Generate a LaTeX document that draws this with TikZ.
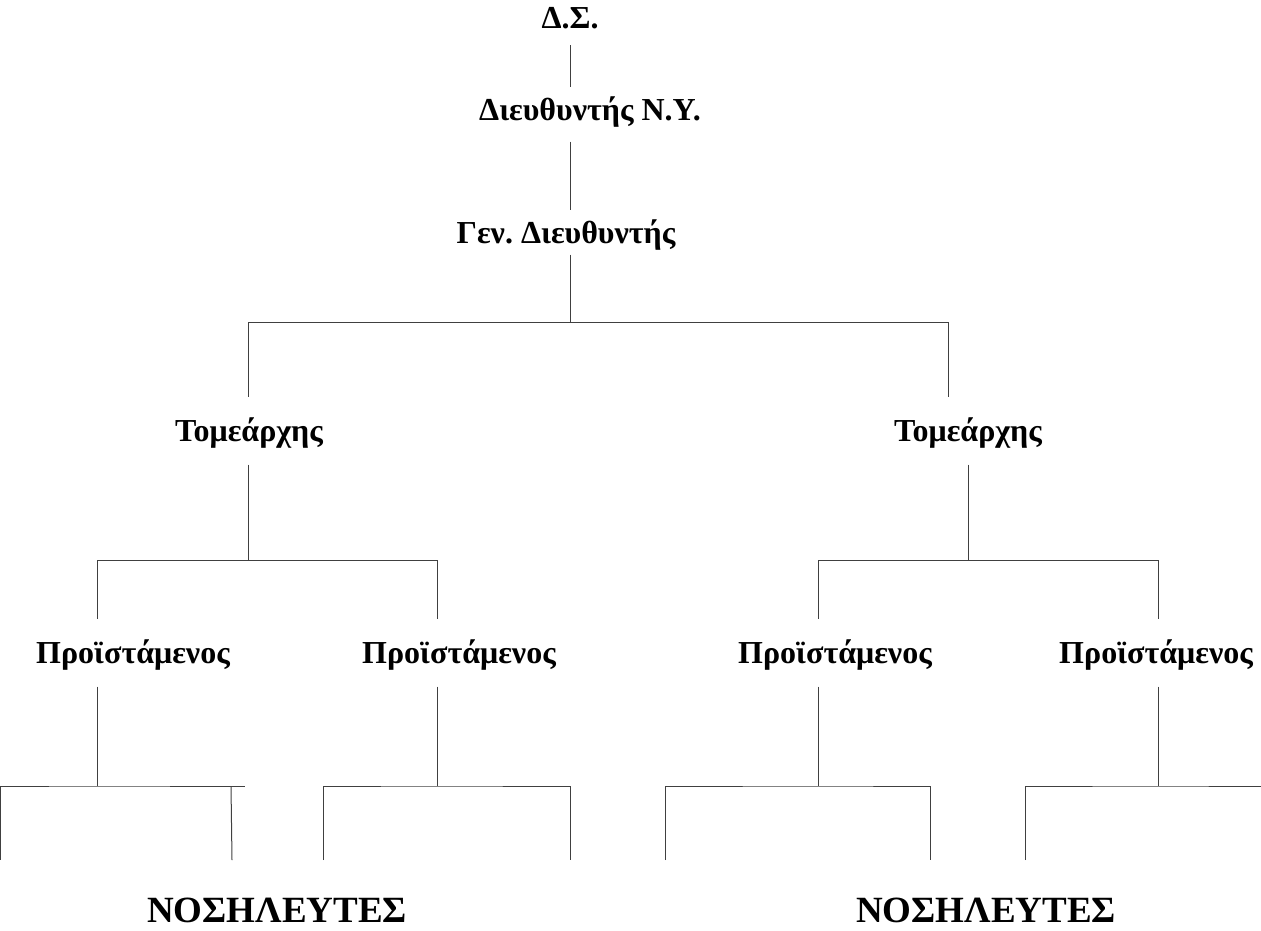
\documentclass[tikz,border=0pt]{standalone}
\usepackage{fontspec}
\setmainfont{Liberation Serif}
\usetikzlibrary{positioning,calc}
\frenchspacing

\begin{document}
\begin{tikzpicture}[x=0.5pt, y=-0.5pt,
  role/.style={font=\bfseries\fontsize{16}{18}\selectfont, inner sep=0pt},
  staff/.style={font=\bfseries\fontsize{18.5}{21}\selectfont, inner sep=0pt},
  link/.style={draw=black!75, line width=0.5pt}]
\useasboundingbox (0,0) rectangle (1261,930);

\node[role] (ds)   at (570,18)  {Δ.Σ.};
\node[role] (dny)  at (590,112) {Διευθυντής Ν.Υ.};
\node[role] (gd)   at (566,235) {Γεν. Διευθυντής};
\node[role] (tomL) at (249,433) {Τομεάρχης};
\node[role] (tomR) at (968,433) {Τομεάρχης};
\node[role] (pr1)  at (133,655)  {Προϊστάμενος};
\node[role] (pr2)  at (459,655)  {Προϊστάμενος};
\node[role] (pr3)  at (835,655)  {Προϊστάμενος};
\node[role] (pr4)  at (1156,655) {Προϊστάμενος};
\node[staff] (nosL) at (277,910) {ΝΟΣΗΛΕΥΤΕΣ};
\node[staff] (nosR) at (986,910) {ΝΟΣΗΛΕΥΤΕΣ};

\coordinate (j0) at (570,322);
\coordinate (j1) at (248,560);
\coordinate (j2) at (968,560);
\coordinate (r1) at (97,786);
\coordinate (r2) at (437,786);
\coordinate (r3) at (818,786);
\coordinate (r4) at (1158,786);

% top chain
\draw[link, shorten <=8pt, shorten >=4.5pt] (ds) -- (dny.north -| ds);
\draw[link, shorten <=7pt, shorten >=4.5pt] (dny.south -| ds) -- (gd.north -| ds);
\draw[link, shorten <=2pt] (gd.south -| j0) -- (j0);
\draw[link, shorten >=10pt] (j0) -| ([xshift=-0.5pt]tomL.north);
\draw[link, shorten >=10pt] (j0) -| ([xshift=-10pt]tomR.north);

% sectors
\draw[link, shorten <=8pt] (tomL.south -| j1) -- (j1);
\draw[link, shorten >=10pt] (j1) -| (pr1.north -| r1);
\draw[link, shorten >=10pt] (j1) -| (pr2.north -| r2);
\draw[link, shorten <=8pt] (tomR) -- (j2);
\draw[link, shorten >=10pt] (j2) -| (pr3.north -| r3);
\draw[link, shorten >=10pt] (j2) -| (pr4.north -| r4);

% nurses
\draw[link, shorten <=8pt] (pr1.south -| r1) -- (r1);
\draw[link, shorten <=8pt] (pr2.south -| r2) -- (r2);
\draw[link, shorten <=8pt] (pr3.south -| r3) -- (r3);
\draw[link, shorten <=8pt] (pr4.south -| r4) -- (r4);
\foreach \r/\a/\b in {r1/-97/148, r2/-114/133, r3/-153/112}
  \draw[link] (\r) ++(\a,74) |- (\r) -- ++(\b,0);
\draw[link] (r1) ++(134,0) -- ++(1,74);
\draw[link] (r2) ++(133,0) -- ++(0,74);
\draw[link] (r3) ++(112,0) -- ++(0,74);
\draw[link] (r4) ++(-133,74) |- (r4) -- ++(103,0);
\end{tikzpicture}
\end{document}
